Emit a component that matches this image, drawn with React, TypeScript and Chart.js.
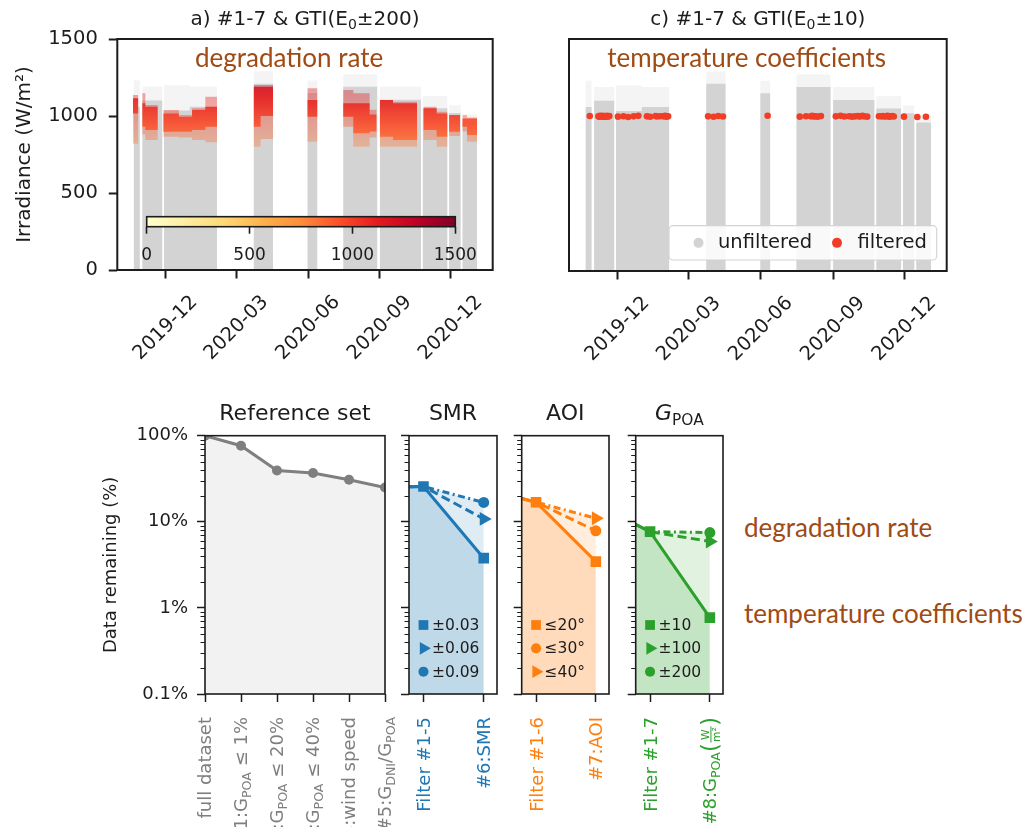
import React, { useEffect, useRef } from 'react';
import { Chart, registerables } from 'chart.js';
import { drawPoint } from 'chart.js/helpers';

Chart.register(...registerables);
const FONT = "'DejaVu Sans', sans-serif";
Chart.defaults.font.family = FONT;
const INK = '#1c1c1c';
Chart.defaults.color = INK;

// ---------------- top panels: irradiance time series ----------------
const dateMin = '2019-09-30';
const dateMax = '2021-01-24';
const dateTicks = ['2019-12-01', '2020-03-01', '2020-06-01', '2020-09-01', '2020-12-01'];
const dateTickLabels = ['2019-12', '2020-03', '2020-06', '2020-09', '2020-12'];
const irradianceTicks = [0, 500, 1000, 1500];
const colorbarTicks = [0, 500, 1000, 1500];

// periods with measurements (unfiltered data)
const segStart = ['2019-10-21', '2019-11-01', '2019-11-29', '2020-01-01', '2020-03-23', '2020-05-31', '2020-07-16', '2020-09-01', '2020-10-26', '2020-11-29', '2020-12-16'];
const segEnd = ['2019-10-28', '2019-11-26', '2019-12-31', '2020-02-04', '2020-04-16', '2020-06-12', '2020-08-28', '2020-10-23', '2020-11-26', '2020-12-13', '2021-01-03'];
const unfilteredDenseTop = [1060, 1100, 1035, 1060, 1210, 1150, 1190, 1105, 1050, 1020, 960];
const unfilteredMaxTop = [1230, 1190, 1200, 1190, 1290, 1230, 1270, 1190, 1130, 1070, 1010];

// panel a: filtered (GTI within E0 ± 200)
const filtStart = ['2019-10-20', '2019-11-01', '2019-11-05', '2019-11-28', '2019-12-18', '2020-01-04', '2020-01-21', '2020-03-23', '2020-04-01', '2020-05-31', '2020-07-16', '2020-07-29', '2020-08-19', '2020-09-01', '2020-09-18', '2020-10-27', '2020-11-13', '2020-11-29', '2020-12-16', '2020-12-22'];
const filtEnd = ['2019-10-26', '2019-11-04', '2019-11-20', '2019-12-17', '2020-01-03', '2020-01-20', '2020-02-04', '2020-03-31', '2020-04-16', '2020-06-12', '2020-07-28', '2020-08-18', '2020-08-27', '2020-09-17', '2020-10-18', '2020-11-12', '2020-11-26', '2020-12-12', '2020-12-21', '2021-01-03'];
const filteredLow = [820, 880, 844, 866, 860, 844, 830, 801, 850, 833, 931, 801, 860, 801, 801, 844, 801, 870, 900, 833];
const filteredHigh = [1136, 1147, 1071, 1039, 1006, 1050, 1125, 1201, 1201, 1180, 1169, 1147, 1040, 1104, 1093, 1060, 1028, 1006, 1006, 990];
const filteredCoreLow = [1017, 931, 909, 898, 898, 909, 931, 930, 1000, 995, 995, 888, 900, 866, 844, 909, 866, 898, 931, 877];
const filteredCoreHigh = [1115, 1082, 1060, 1017, 995, 1039, 1060, 1190, 1190, 1104, 1082, 1082, 1010, 1104, 1082, 1050, 1017, 1006, 984, 984];

// panel c: filtered (GTI within E0 ± 10)
const filtered10Dates = [
  '2019-10-26', '2019-11-06', '2019-11-07', '2019-11-08', '2019-11-09', '2019-11-10', '2019-11-11', '2019-11-12',
  '2019-11-13', '2019-11-14', '2019-11-15', '2019-11-16', '2019-11-17', '2019-11-18', '2019-11-19', '2019-11-20',
  '2019-12-01', '2019-12-08', '2019-12-14', '2019-12-21', '2019-12-27', '2020-01-07', '2020-01-11', '2020-01-18',
  '2020-01-20', '2020-01-24', '2020-01-28', '2020-01-30', '2020-02-01', '2020-02-03', '2020-03-25', '2020-04-01',
  '2020-04-07', '2020-04-13', '2020-06-09', '2020-07-20', '2020-07-28', '2020-08-03', '2020-08-05', '2020-08-07',
  '2020-08-09', '2020-08-12', '2020-08-16', '2020-09-04', '2020-09-10', '2020-09-15', '2020-09-21', '2020-09-25',
  '2020-09-29', '2020-10-02', '2020-10-04', '2020-10-06', '2020-10-08', '2020-10-10', '2020-10-14', '2020-10-29',
  '2020-11-01', '2020-11-03', '2020-11-05', '2020-11-07', '2020-11-09', '2020-11-11', '2020-11-13', '2020-11-15',
  '2020-11-17', '2020-11-30', '2020-12-17', '2020-12-28',
];
const filtered10Values = [
  1002, 1000, 998, 1003, 1001, 999, 1004, 997, 1000, 1002, 998, 1001, 1003, 999, 1000, 1002,
  998, 1001, 996, 1000, 1003, 1000, 997, 1002, 999, 1001, 1000, 1003, 998, 1001, 1000, 997,
  1002, 999, 1004, 998, 1001, 1000, 1003, 999, 1001, 998, 1002, 1000, 1003, 999, 1001, 998,
  1000, 1002, 999, 1001, 1003, 1000, 998, 1001, 1000, 1002, 999, 1001, 1003, 998, 1000, 1002,
  999, 998, 996, 997,
];
const seriesLabels = ['unfiltered', 'filtered'];

// ---------------- bottom panels: data remaining ----------------
const pctTicks = [0.1, 1, 10, 100];
const pctTickLabels = ['0.1%', '1%', '10%', '100%'];
const minorTickValues = [0.2, 0.3, 0.4, 0.5, 0.6, 0.7, 0.8, 0.9, 2, 3, 4, 5, 6, 7, 8, 9, 20, 30, 40, 50, 60, 70, 80, 90];

const refLabels = ['full dataset', '#1:G_{POA} ≤ 1%', '#2:G_{POA} ≤ 20%', '#3:G_{POA} ≤ 40%', '#4:wind speed', '#5:G_{DNI}/G_{POA}'];
const refValues = [100, 76.5, 39.5, 36.8, 30.8, 25];

const smrLabels = ['Filter #1-5', '#6:SMR'];
const smrLead = 25;
const smrFilter = 25.7;
const smrFinal = [3.78, 10.8, 16.8];
const smrLegend = ['±0.03', '±0.06', '±0.09'];
const smrMarkers = ['rect', 'triangle', 'circle'];

const aoiLabels = ['Filter #1-6', '#7:AOI'];
const aoiLead = 25.7;
const aoiFilter = 16.9;
const aoiFinal = [3.45, 7.86, 11.0];
const aoiLegend = ['≤20°', '≤30°', '≤40°'];
const aoiMarkers = ['rect', 'circle', 'triangle'];

const gpoaLabels = ['Filter #1-7', '#8:G_{POA}\\frac{W}{m²}'];
const gpoaLead = 16.9;
const gpoaFilter = 7.7;
const gpoaFinal = [0.77, 5.9, 7.5];
const gpoaLegend = ['±10', '±100', '±200'];
const gpoaMarkers = ['rect', 'triangle', 'circle'];

const noteTexts = ['degradation rate', 'temperature coefficients', 'degradation rate', 'temperature coefficients'];

// ---------------- helpers ----------------
const dn = (s: string) => Date.UTC(+s.slice(0, 4), +s.slice(5, 7) - 1, +s.slice(8, 10)) / 86400000;
const YLORRD = ['#ffffcc', '#ffeda0', '#fed976', '#feb24c', '#fd8d3c', '#fc4e2a', '#e31a1c', '#bd0026', '#800026'];
function hexA(h: string, a: number) {
  const n = parseInt(h.slice(1), 16);
  return `rgba(${n >> 16},${(n >> 8) & 255},${n & 255},${a})`;
}
const GREY = '#d3d3d3';
const RED = '#f23d26';
const BROWN = '#a04a14';

function segLine(starts: string[], ends: string[], vals: number[]) {
  const pts: { x: number; y: number | null }[] = [];
  for (let i = 0; i < starts.length; i++) {
    const s = dn(starts[i]);
    const e = dn(ends[i]) + 1;
    if (i > 0) {
      const pe = dn(ends[i - 1]) + 1;
      if (s - pe > 0.5) pts.push({ x: (s + pe) / 2, y: null });
    }
    pts.push({ x: s, y: vals[i] }, { x: e, y: vals[i] });
  }
  return pts;
}

function cmapFill(alpha: number) {
  return (c: any) => {
    const chart = c.chart;
    const area = chart.chartArea;
    const ys = chart.scales && chart.scales.y;
    if (!area || !ys) return hexA('#fc4e2a', alpha);
    const y0 = ys.getPixelForValue(0);
    const y1 = ys.getPixelForValue(1500);
    const g = chart.ctx.createLinearGradient(0, y0, 0, y1);
    YLORRD.forEach((col, i) => g.addColorStop(i / (YLORRD.length - 1), hexA(col, alpha)));
    return g;
  };
}

type Seg = { kind: string; text: string; den?: string };
function parseRich(s: string): Seg[] {
  const out: Seg[] = [];
  const re = /_\{([^}]*)\}|\^\{([^}]*)\}|\$([^$]*)\$|\\frac\{([^}]*)\}\{([^}]*)\}/g;
  let last = 0;
  let m: RegExpExecArray | null;
  while ((m = re.exec(s)) !== null) {
    if (m.index > last) out.push({ kind: 'n', text: s.slice(last, m.index) });
    if (m[1] !== undefined) out.push({ kind: 'sub', text: m[1] });
    else if (m[2] !== undefined) out.push({ kind: 'sup', text: m[2] });
    else if (m[3] !== undefined) out.push({ kind: 'it', text: m[3] });
    else out.push({ kind: 'frac', text: m[4], den: m[5] });
    last = re.lastIndex;
  }
  if (last < s.length) out.push({ kind: 'n', text: s.slice(last) });
  return out;
}

function drawRich(ctx: CanvasRenderingContext2D, s: string, size: number, x: number, y: number, align: string, color: string) {
  const segs = parseRich(s);
  const f = (sz: number, it = false) => `${it ? 'italic ' : ''}${sz}px ${FONT}`;
  const small = size * 0.7;
  const fsz = size * 0.6;
  const widths = segs.map((sg) => {
    if (sg.kind === 'n') { ctx.font = f(size); return ctx.measureText(sg.text).width; }
    if (sg.kind === 'it') { ctx.font = f(size, true); return ctx.measureText(sg.text).width; }
    if (sg.kind === 'sub' || sg.kind === 'sup') { ctx.font = f(small); return ctx.measureText(sg.text).width; }
    ctx.font = f(fsz);
    const w = Math.max(ctx.measureText(sg.text).width, ctx.measureText(sg.den || '').width) + size * 0.15;
    ctx.font = f(size * 1.25);
    return w + 2 * ctx.measureText('(').width;
  });
  const total = widths.reduce((a, b) => a + b, 0);
  let cx = align === 'center' ? x - total / 2 : align === 'right' ? x - total : x;
  const base = y + 0.36 * size;
  ctx.save();
  ctx.fillStyle = color;
  ctx.strokeStyle = color;
  ctx.textAlign = 'left';
  ctx.textBaseline = 'alphabetic';
  segs.forEach((sg, i) => {
    if (sg.kind === 'n') { ctx.font = f(size); ctx.fillText(sg.text, cx, base); }
    else if (sg.kind === 'it') { ctx.font = f(size, true); ctx.fillText(sg.text, cx, base); }
    else if (sg.kind === 'sub') { ctx.font = f(small); ctx.fillText(sg.text, cx, base + 0.2 * size); }
    else if (sg.kind === 'sup') { ctx.font = f(small); ctx.fillText(sg.text, cx, base - 0.4 * size); }
    else {
      ctx.font = f(size * 1.25);
      const pw = ctx.measureText('(').width;
      ctx.fillText('(', cx, base + 0.1 * size);
      const inner = widths[i] - 2 * pw;
      const mid = cx + pw + inner / 2;
      ctx.font = f(fsz);
      ctx.textAlign = 'center';
      ctx.fillText(sg.text, mid, base - 0.4 * size);
      ctx.fillText(sg.den || '', mid, base + 0.22 * size);
      ctx.textAlign = 'left';
      ctx.lineWidth = Math.max(1, size * 0.05);
      ctx.beginPath();
      ctx.moveTo(cx + pw + size * 0.04, base - 0.3 * size);
      ctx.lineTo(cx + pw + inner - size * 0.04, base - 0.3 * size);
      ctx.stroke();
      ctx.font = f(size * 1.25);
      ctx.fillText(')', cx + pw + inner, base + 0.1 * size);
    }
    cx += widths[i];
  });
  ctx.restore();
}

// ---------------- plugins ----------------
const framePlugin = (lw: number) => ({
  id: 'frame',
  afterDatasetsDraw(chart: any) {
    const { ctx, chartArea: a } = chart;
    ctx.save();
    ctx.strokeStyle = INK;
    ctx.lineWidth = lw;
    ctx.strokeRect(a.left, a.top, a.right - a.left, a.bottom - a.top);
    ctx.restore();
  },
});

const titlePlugin = (text: string, size: number, dy: number) => ({
  id: 'richTitle',
  afterDraw(chart: any) {
    const { ctx, chartArea: a } = chart;
    drawRich(ctx, text, size, (a.left + a.right) / 2, a.top - dy, 'center', INK);
  },
});

const dateLabelPlugin = {
  id: 'dateLabels',
  afterDraw(chart: any) {
    const { ctx, chartArea: a, scales } = chart;
    ctx.save();
    ctx.font = `19.5px ${FONT}`;
    ctx.fillStyle = INK;
    ctx.textAlign = 'center';
    ctx.textBaseline = 'middle';
    dateTicks.forEach((d, i) => {
      const px = scales.x.getPixelForValue(dn(d));
      ctx.save();
      ctx.translate(px, a.bottom + 58);
      ctx.rotate(-Math.PI / 4);
      ctx.fillText(dateTickLabels[i], 0, 0);
      ctx.restore();
    });
    ctx.restore();
  },
};

const bottomLabelsPlugin = (labels: string[], color: string) => ({
  id: 'bottomLabels',
  afterDraw(chart: any) {
    const { ctx, chartArea: a, scales } = chart;
    labels.forEach((lab, i) => {
      const px = scales.x.getPixelForValue(i);
      ctx.save();
      ctx.translate(px, a.bottom + 23);
      ctx.rotate(-Math.PI / 2);
      drawRich(ctx, lab, 18, 0, 0, 'right', color);
      ctx.restore();
    });
  },
});

const minorTickPlugin = {
  id: 'minorTicks',
  afterDraw(chart: any) {
    const { ctx, chartArea: a, scales } = chart;
    ctx.save();
    ctx.strokeStyle = INK;
    ctx.lineWidth = 1;
    ctx.beginPath();
    minorTickValues.forEach((v) => {
      const py = Math.round(scales.y.getPixelForValue(v)) + 0.5;
      ctx.moveTo(a.left - 4.5, py);
      ctx.lineTo(a.left, py);
    });
    ctx.stroke();
    ctx.restore();
  },
};

const MARKER_R: Record<string, number> = { rect: 7.5, triangle: 8, circle: 5.5 };

const panelLegendPlugin = (labels: string[], markers: string[], color: string) => ({
  id: 'panelLegend',
  afterDatasetsDraw(chart: any) {
    const { ctx, chartArea: a, scales } = chart;
    const mx = scales.x.getPixelForValue(0);
    const rows = [a.bottom - 69, a.bottom - 45.7, a.bottom - 22.3];
    ctx.save();
    labels.forEach((lab, i) => {
      ctx.fillStyle = color;
      ctx.strokeStyle = color;
      drawPoint(ctx, { pointStyle: markers[i], rotation: markers[i] === 'triangle' ? 90 : 0, radius: MARKER_R[markers[i]] * 0.92, borderWidth: 0 } as any, mx, rows[i]);
      ctx.fillStyle = INK;
      ctx.font = `15.5px ${FONT}`;
      ctx.textAlign = 'left';
      ctx.textBaseline = 'middle';
      ctx.fillText(lab, mx + 8.5, rows[i] + 1);
    });
    ctx.restore();
  },
});

const legendCPlugin = {
  id: 'legendC',
  afterDatasetsDraw(chart: any) {
    const { ctx, chartArea: a } = chart;
    const w = 267.7;
    const h = 34.3;
    const bx = a.right - 10 - w;
    const by = a.bottom - 11 - h;
    ctx.save();
    ctx.beginPath();
    ctx.roundRect(bx, by, w, h, 4);
    ctx.fillStyle = 'rgba(255,255,255,0.85)';
    ctx.fill();
    ctx.strokeStyle = '#d4d4d4';
    ctx.lineWidth = 1.2;
    ctx.stroke();
    const cy = by + h / 2;
    const items: [string, string, number, number][] = [
      [seriesLabels[0], GREY, 29.5, 49],
      [seriesLabels[1], RED, 168, 188.5],
    ];
    items.forEach(([lab, col, dx, tx]) => {
      ctx.fillStyle = col;
      ctx.beginPath();
      ctx.arc(bx + dx, cy, 5, 0, Math.PI * 2);
      ctx.fill();
      ctx.fillStyle = INK;
      ctx.font = `19.5px ${FONT}`;
      ctx.textAlign = 'left';
      ctx.textBaseline = 'middle';
      ctx.fillText(lab, bx + tx, cy);
    });
    ctx.restore();
  },
};

const colorbarGradientPlugin = {
  id: 'cbGradient',
  beforeDatasetsDraw(chart: any) {
    const { ctx, chartArea: a } = chart;
    const g = ctx.createLinearGradient(a.left, 0, a.right, 0);
    YLORRD.forEach((col, i) => g.addColorStop(i / (YLORRD.length - 1), col));
    ctx.save();
    ctx.fillStyle = g;
    ctx.fillRect(a.left, a.top, a.right - a.left, a.bottom - a.top);
    ctx.restore();
  },
};

// ---------------- chart configs ----------------
const baseOptions = (padding: any) => ({
  animation: false,
  responsive: false,
  events: [],
  layout: { padding },
  plugins: { legend: { display: false }, tooltip: { enabled: false } },
});

const fillOnly = (data: any, fill: any, bg: any) => ({
  data,
  fill,
  backgroundColor: bg,
  borderColor: 'rgba(0,0,0,0)',
  borderWidth: 0,
  pointRadius: 0,
  tension: 0,
  spanGaps: false,
});

const topXScale = (h: number) => ({
  type: 'linear',
  min: dn(dateMin),
  max: dn(dateMax),
  afterBuildTicks: (s: any) => { s.ticks = dateTicks.map((d) => ({ value: dn(d) })); },
  ticks: { display: false },
  grid: { display: true, drawOnChartArea: false, drawTicks: true, tickLength: 8.5, tickWidth: 2, tickColor: INK },
  border: { display: false },
  afterFit: (s: any) => { s.height = h; },
});

const SPARSE_GREY = 'rgba(211,211,211,0.25)';

function buildPanelA() {
  return {
    type: 'line',
    data: {
      datasets: [
        fillOnly(segLine(filtStart, filtEnd, filteredCoreLow), false, 'rgba(0,0,0,0)'),
        fillOnly(segLine(filtStart, filtEnd, filteredCoreHigh), '-1', cmapFill(0.85)),
        fillOnly(segLine(filtStart, filtEnd, filteredLow), false, 'rgba(0,0,0,0)'),
        fillOnly(segLine(filtStart, filtEnd, filteredHigh), '-1', cmapFill(0.38)),
        fillOnly(segLine(segStart, segEnd, unfilteredDenseTop), 'start', GREY),
        fillOnly(segLine(segStart, segEnd, unfilteredMaxTop), 'start', SPARSE_GREY),
      ],
    },
    options: {
      ...baseOptions({ left: 0, top: 39, right: 27.3, bottom: 0 }),
      scales: {
        x: topXScale(110),
        y: {
          type: 'linear', min: 0, max: 1500,
          afterBuildTicks: (s: any) => { s.ticks = irradianceTicks.map((v) => ({ value: v })); },
          ticks: { font: { size: 19.5 }, color: INK, padding: 11, callback: (v: any) => String(v) },
          grid: { display: true, drawOnChartArea: false, tickLength: 8.5, tickWidth: 2, tickColor: INK },
          border: { display: false },
          title: { display: true, text: 'Irradiance (W/m²)', font: { size: 20 }, color: INK, padding: { top: 13, bottom: 0 } },
          afterFit: (s: any) => { s.width = 117.3; },
        },
      },
    },
    plugins: [framePlugin(2), titlePlugin('a) #1-7 & GTI(E_{0}±200)', 20, 21), dateLabelPlugin],
  };
}

function buildPanelC() {
  return {
    type: 'line',
    data: {
      datasets: [
        {
          data: filtered10Dates.map((d, i) => ({ x: dn(d) + 0.5, y: filtered10Values[i] })),
          showLine: false,
          pointRadius: 3.3,
          pointBackgroundColor: RED,
          pointBorderWidth: 0,
          borderColor: RED,
        },
        fillOnly(segLine(segStart, segEnd, unfilteredDenseTop), 'start', GREY),
        fillOnly(segLine(segStart, segEnd, unfilteredMaxTop), 'start', SPARSE_GREY),
      ],
    },
    options: {
      ...baseOptions({ left: 0, top: 39, right: 83.3, bottom: 0 }),
      scales: {
        x: topXScale(109),
        y: {
          type: 'linear', min: 0, max: 1500,
          ticks: { display: false },
          grid: { display: false },
          border: { display: false },
          afterFit: (s: any) => { s.width = 49; },
        },
      },
    },
    plugins: [framePlugin(2), titlePlugin('c) #1-7 & GTI(E_{0}±10)', 20, 21), dateLabelPlugin, legendCPlugin],
  };
}

function buildColorbar() {
  return {
    type: 'line',
    data: { datasets: [] },
    options: {
      ...baseOptions({ left: 26.7, top: 11.7, right: 44.7, bottom: 0 }),
      scales: {
        x: {
          type: 'linear', min: 0, max: 1500,
          afterBuildTicks: (s: any) => { s.ticks = colorbarTicks.map((v) => ({ value: v })); },
          ticks: { font: { size: 17 }, color: INK, padding: 12, callback: (v: any) => String(v), maxRotation: 0 },
          grid: { display: true, drawOnChartArea: false, tickLength: 7, tickWidth: 1.6, tickColor: INK },
          border: { display: false },
          afterFit: (s: any) => { s.height = 48.3; },
        },
        y: { display: false, min: 0, max: 1 },
      },
    },
    plugins: [colorbarGradientPlugin, framePlugin(1.6)],
  };
}

const isDecade = (v: number) => Math.abs(Math.log10(v) - Math.round(Math.log10(v))) < 1e-6;

const logYScale = (showLabels: boolean, width: number) => ({
  type: 'logarithmic',
  min: 0.1,
  max: 100,
  afterBuildTicks: (s: any) => { s.ticks = pctTicks.map((v) => ({ value: v })); },
  ticks: {
    display: showLabels,
    autoSkip: false,
    font: { size: 18 },
    color: INK,
    padding: 9,
    callback: (v: any) => {
      const i = pctTicks.findIndex((p) => Math.abs(p - v) < 1e-9);
      return i >= 0 ? pctTickLabels[i] : '';
    },
  },
  grid: { display: true, drawOnChartArea: false, tickLength: 8, tickWidth: 1.5, tickColor: (c: any) => (c.tick && isDecade(c.tick.value) ? INK : 'rgba(0,0,0,0)') },
  border: { display: false },
  title: showLabels ? { display: true, text: 'Data remaining (%)', font: { size: 18 }, color: INK, padding: { top: 1, bottom: 0 } } : { display: false },
  afterFit: (s: any) => { s.width = width; },
});

const bottomXScale = (min: number, max: number, ticks: number[]) => ({
  type: 'linear',
  min,
  max,
  afterBuildTicks: (s: any) => { s.ticks = ticks.map((v) => ({ value: v })); },
  ticks: { display: false },
  grid: { display: true, drawOnChartArea: false, tickLength: 8, tickWidth: 1.5, tickColor: INK },
  border: { display: false },
  afterFit: (s: any) => { s.height = 133; },
});

function buildRef() {
  return {
    type: 'line',
    data: {
      datasets: [
        {
          data: refValues.map((v, i) => ({ x: i, y: v })),
          borderColor: '#7f7f7f',
          borderWidth: 3,
          pointRadius: 5,
          pointBackgroundColor: '#7f7f7f',
          pointBorderWidth: 0,
          fill: 'start',
          backgroundColor: 'rgba(127,127,127,0.1)',
          tension: 0,
        },
      ],
    },
    options: {
      ...baseOptions({ left: 0, top: 55.7, right: 15, bottom: 0 }),
      scales: {
        x: bottomXScale(0, refValues.length - 1, refValues.map((_, i) => i)),
        y: logYScale(true, 105),
      },
    },
    plugins: [framePlugin(1.6), titlePlugin('Reference set', 22, 23.3), bottomLabelsPlugin(refLabels, '#7f7f7f'), minorTickPlugin],
  };
}

const DASHES = [[], [9, 4.5], [7, 3.5, 2, 3.5]];

function buildFilterPanel(p: {
  title: string; labels: string[]; lead: number; filter: number; finals: number[];
  legend: string[]; markers: string[]; color: string; padRight: number; yWidth: number;
}) {
  const top = p.finals[1] > p.finals[2] ? 1 : 2;
  const datasets = p.finals.map((fv, k) => ({
    data: [{ x: -1, y: p.lead }, { x: 0, y: p.filter }, { x: 1, y: fv }],
    borderColor: p.color,
    borderWidth: 3,
    borderDash: DASHES[k],
    pointStyle: p.markers[k],
    pointRotation: p.markers[k] === 'triangle' ? 90 : 0,
    pointRadius: (c: any) => (c.dataIndex === 2 || (k === 0 && c.dataIndex === 1) ? MARKER_R[p.markers[c.dataIndex === 2 ? k : 0]] : 0),
    pointBackgroundColor: p.color,
    pointBorderWidth: 0,
    tension: 0,
    fill: k === 0 || k === top ? 'start' : false,
    backgroundColor: hexA(p.color, k === 0 ? 0.16 : 0.14),
  }));
  return {
    type: 'line',
    data: { datasets },
    options: {
      ...baseOptions({ left: 0, top: 55.7, right: p.padRight, bottom: 0 }),
      scales: {
        x: bottomXScale(-0.24, 1.22, [0, 1]),
        y: logYScale(false, p.yWidth),
      },
    },
    plugins: [
      framePlugin(1.6),
      titlePlugin(p.title, 22, 23.3),
      bottomLabelsPlugin(p.labels, p.color),
      minorTickPlugin,
      panelLegendPlugin(p.legend, p.markers, p.color),
    ],
  };
}

const smrPanel = { title: 'SMR', labels: smrLabels, lead: smrLead, filter: smrFilter, finals: smrFinal, legend: smrLegend, markers: smrMarkers, color: '#1f77b4', padRight: 7.7, yWidth: 14 };
const aoiPanel = { title: 'AOI', labels: aoiLabels, lead: aoiLead, filter: aoiFilter, finals: aoiFinal, legend: aoiLegend, markers: aoiMarkers, color: '#ff7f0e', padRight: 7, yWidth: 14.7 };
const gpoaPanel = { title: '$G$_{POA}', labels: gpoaLabels, lead: gpoaLead, filter: gpoaFilter, finals: gpoaFinal, legend: gpoaLegend, markers: gpoaMarkers, color: '#2ca02c', padRight: 7.7, yWidth: 14.7 };

function ChartBox({ box, build }: { box: number[]; build: () => any }) {
  const ref = useRef<HTMLCanvasElement>(null);
  useEffect(() => {
    const chart = new Chart(ref.current as HTMLCanvasElement, build());
    return () => chart.destroy();
  }, []);
  const [l, t, w, h] = box;
  return (
    <canvas
      ref={ref}
      width={w}
      height={h}
      style={{ position: 'absolute', left: l, top: t, width: w, height: h, display: 'block' }}
    />
  );
}

const notePos = [[195, 66.7], [607.3, 66.7], [744, 536.7], [744, 622.7]];

export default function App() {
  return (
    <div style={{ position: 'fixed', left: 0, top: 0, width: 1030, height: 827, overflow: 'hidden', background: '#fff' }}>
      <ChartBox box={[0, 0, 520, 380]} build={buildPanelA} />
      <ChartBox box={[520, 0, 510, 380]} build={buildPanelC} />
      <ChartBox box={[120, 205, 380, 70]} build={buildColorbar} />
      <ChartBox box={[100, 380, 300, 447]} build={buildRef} />
      <ChartBox box={[395, 380, 110, 447]} build={() => buildFilterPanel(smrPanel)} />
      <ChartBox box={[507, 380, 110, 447]} build={() => buildFilterPanel(aoiPanel)} />
      <ChartBox box={[621, 380, 110, 447]} build={() => buildFilterPanel(gpoaPanel)} />
      {noteTexts.map((t, i) => (
        <div
          key={i}
          style={{
            position: 'absolute',
            left: notePos[i][0],
            top: notePos[i][1] - 23,
            fontFamily: 'Lato, sans-serif',
            fontSize: 26,
            lineHeight: '26px',
            color: BROWN,
            whiteSpace: 'nowrap',
          }}
        >
          {t}
        </div>
      ))}
    </div>
  );
}
